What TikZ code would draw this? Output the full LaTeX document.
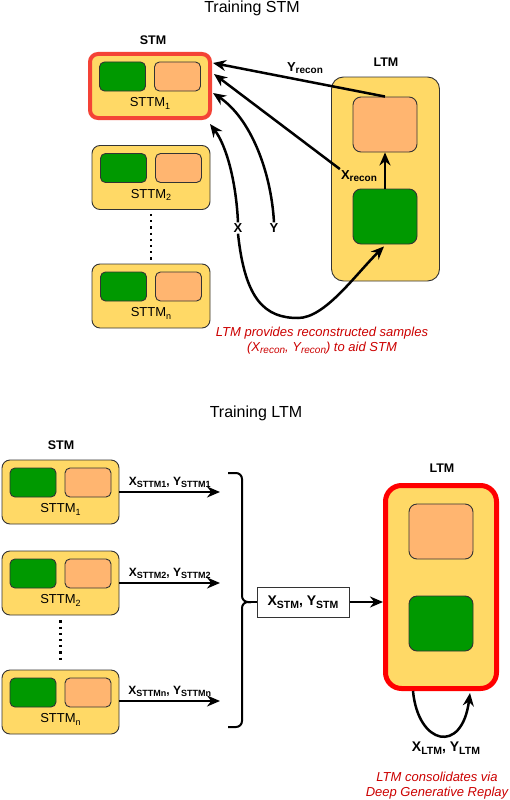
\documentclass[tikz,border=0pt]{standalone}
\usepackage{fontspec}
\setmainfont{Liberation Sans}
\usetikzlibrary{arrows.meta, positioning, calc}

\definecolor{memyellow}{HTML}{FFD966}
\definecolor{memgreen}{HTML}{009900}
\definecolor{memorange}{HTML}{FFB570}
\definecolor{softred}{HTML}{F44336}
\definecolor{notered}{HTML}{CC0000}

% smaller lowered text for the drawio style subscripts
\newcommand{\lowsub}[2][10]{\raisebox{-0.35ex}{\fontsize{#1}{#1}\selectfont #2}}

\tikzset{
  membox/.style={draw=black!80, fill=memyellow, rounded corners=8pt, line width=0.9pt,
    minimum width=118pt, minimum height=64pt, inner sep=0pt},
  greenbox/.style={draw=black!80, fill=memgreen, rounded corners=5pt, line width=0.9pt,
    minimum width=46pt, minimum height=29pt, inner sep=0pt},
  orangebox/.style={greenbox, fill=memorange},
  bigbox/.style={greenbox, rounded corners=8pt, minimum width=64pt, minimum height=55pt},
  hot/.style={draw=softred, line width=4pt, minimum width=120pt},
  flow/.style={draw=black, line width=2.5pt, -{Stealth[length=13pt,width=11pt]}},
  lbl/.style={font=\fontsize{13}{15}\selectfont\bfseries, inner sep=1pt},
  head/.style={font=\fontsize{12.5}{14}\selectfont\bfseries},
  title/.style={font=\fontsize{16}{18}\selectfont},
  boxtext/.style={font=\fontsize{13}{15}\selectfont, inner sep=0pt},
  note/.style={text=notered, font=\fontsize{13}{15}\selectfont\itshape, align=center},
  dots/.style={line width=2.2pt, dash pattern=on 2.2pt off 4pt}
}

% one short term memory unit
\newcommand{\sttmunit}[4]{%
  \node[membox, #4] (#1) at #2 {};
  \node[greenbox] (#1g) at ($(#1.center)+(-27.5,-9.5)$) {};
  \node[orangebox] (#1o) at ($(#1.center)+(27.5,-9.5)$) {};
  \node[boxtext] (#1t) at ($(#1.center)+(0,17.5)$) {STTM\lowsub[9]{#3}};
}

\begin{document}
\begin{tikzpicture}[x=1pt, y=-1pt]
  \fill[white] (0,0) rectangle (509,800);
  \useasboundingbox (0,0) rectangle (509,800);

  % ---- training STM ----
  \node[title] (ttop) at (252,8) {Training STM};
  \node[head] (stmtop) at (153,40) {STM};
  \node[head] (ltmtop) at (386,62) {LTM};

  \sttmunit{sa}{(150,86)}{1}{hot}
  \sttmunit{sb}{(151,177.5)}{2}{}
  \sttmunit{sn}{(151,296)}{n}{}
  \draw[dots, shorten <=4pt, shorten >=4pt] (sb.south) -- (sn.north);

  \node[membox, rounded corners=12pt, minimum width=108pt, minimum height=204pt] (ltma) at (385.5,179) {};
  \node[bigbox, fill=memorange] (ltmao) at (385,124.5) {};
  \node[bigbox] (ltmag) at (385,216.5) {};

  \node[lbl] (xrec) at (359,176) {X\lowsub{recon}};
  \node[lbl] (yrec) at (305,68) {Y\lowsub{recon}};
  \node[lbl] (xlab) at (238,228) {X};
  \node[lbl] (ylab) at (274,228) {Y};

  \draw[flow] (ltmag) -- (ltmao);
  \draw[flow] (ltmao.north) -- ($(sa.east)+(1,-23)$);
  \draw[flow] (xrec.north west) -- ($(sa.east)+(2,-12)$);
  \draw[flow] (ylab.north) .. controls (271,170) and (250,118) .. ($(sa.east)+(1,7)$);
  \draw[flow] (xlab.north) .. controls (236,180) and (226,145) .. ($(sa.south east)+(-2,4)$);
  \draw[flow] (xlab.south) .. controls (245,300) and (265,318) .. (298,318)
    .. controls (325,318) and (355,275) .. ($(ltmag.south)+(-1,2)$);

  \node[note] (notetop) at (322,340.5) {LTM provides reconstructed samples\\
    (X\lowsub[10]{recon}, Y\lowsub[10]{recon}) to aid STM};

  % ---- training LTM ----
  \node[title] (tbot) at (256,413) {Training LTM};
  \node[head] (stmbot) at (61,445) {STM};
  \node[head] (ltmbot) at (442,468) {LTM};

  \sttmunit{ca}{(60.5,492)}{1}{minimum width=117pt}
  \sttmunit{cb}{(60.5,583)}{2}{minimum width=117pt}
  \sttmunit{cn}{(60.5,702)}{n}{minimum width=117pt}
  \draw[dots, shorten <=5pt, shorten >=6pt] (cb.south) -- (cn.north);

  \coordinate (ina) at (220,492);
  \coordinate (inb) at (220,583);
  \coordinate (inn) at (220,701);
  \draw[flow] (ca.east) -- (ina) node[midway, above=2pt, lbl, font=\fontsize{12}{14}\selectfont\bfseries]
    {X\lowsub[9]{STTM1}, Y\lowsub[9]{STTM1}};
  \draw[flow] (cb.east) -- (inb) node[midway, above=2pt, lbl, font=\fontsize{12}{14}\selectfont\bfseries]
    {X\lowsub[9]{STTM2}, Y\lowsub[9]{STTM2}};
  \draw[flow] (cn.east |- inn) -- (inn) node[midway, above=2pt, lbl, font=\fontsize{12}{14}\selectfont\bfseries]
    {X\lowsub[9]{STTMn}, Y\lowsub[9]{STTMn}};

  % brace
  \coordinate (bracetip) at (251,602);
  \draw[line width=2pt, rounded corners=6pt] (228,473) -- (242,473) -- (242,602) -- (bracetip);
  \draw[line width=2pt, rounded corners=6pt] (bracetip) -- (242,602) -- (242,727) -- (228,727);

  \node[draw=black!80, fill=white, line width=1pt, minimum width=92pt, minimum height=30pt,
    font=\fontsize{14}{16}\selectfont\bfseries] (xstm) at (303,602) {X\lowsub[10.5]{STM}, Y\lowsub[10.5]{STM}};
  \draw[line width=2.5pt] (bracetip) -- (xstm.west);

  \node[membox, draw=red, line width=5pt, rounded corners=16pt, minimum width=111pt, minimum height=203pt] (ltmb) at (441,587) {};
  \node[bigbox, fill=memorange] (ltmbo) at (441,531.5) {};
  \node[bigbox] (ltmbg) at (441,623.5) {};

  \draw[flow] (xstm.east) -- (xstm.east -| ltmb.west);
  \draw[flow] ($(ltmb.south)+(-28,0)$) .. controls (418,745) and (462,755) .. ($(ltmb.south)+(29,2)$);
  \node[lbl, font=\fontsize{14}{16}\selectfont\bfseries] (xltm) at (446,748) {X\lowsub[10.5]{LTM}, Y\lowsub[10.5]{LTM}};

  \node[note] (notebot) at (437,785.5) {LTM consolidates via\\Deep Generative Replay};
\end{tikzpicture}
\end{document}
